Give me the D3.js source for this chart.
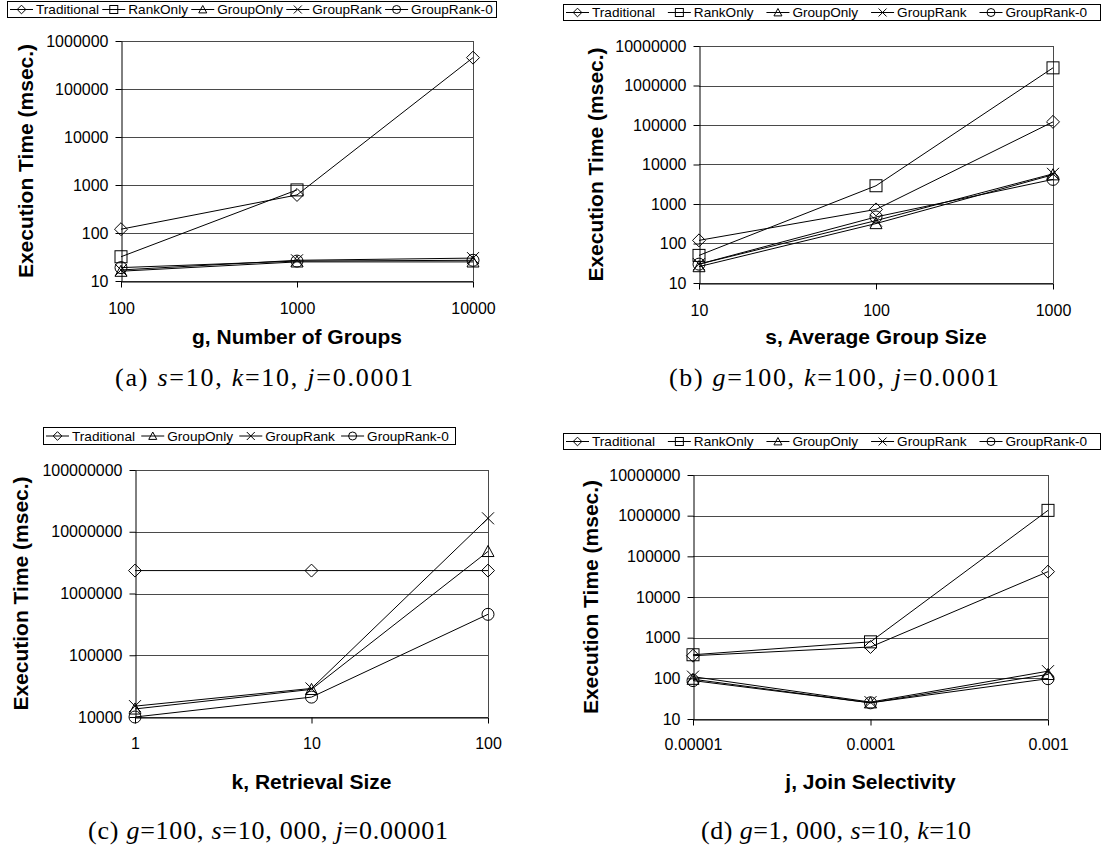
<!DOCTYPE html>
<html><head><meta charset="utf-8">
<script src="https://cdn.jsdelivr.net/npm/d3@7"></script>
<style>
body{margin:0;background:#fff}
svg{display:block}
text{font-family:"Liberation Sans",Arial,Helvetica,sans-serif;fill:#000}
</style>
</head><body>
<svg id="chart" width="1102" height="862"></svg>
<script>
// ---------- DATA ----------
const seriesNames = ["Traditional", "RankOnly", "GroupOnly", "GroupRank", "GroupRank-0"];

// (a) g, Number of Groups
const aX = [100, 1000, 10000];
const aXTickLabels = ["100", "1000", "10000"];
const aYTicks = [10, 100, 1000, 10000, 100000, 1000000];
const aTraditional = [120, 620, 450000];
const aRankOnly = [32, 790, null];
const aGroupOnly = [16, 25, 25];
const aGroupRank = [17, 27, 30];
const aGroupRank0 = [19, 26, 27];

// (b) s, Average Group Size
const bX = [10, 100, 1000];
const bXTickLabels = ["10", "100", "1000"];
const bYTicks = [10, 100, 1000, 10000, 100000, 1000000, 10000000];
const bTraditional = [120, 730, 120000];
const bRankOnly = [50, 2900, 2800000];
const bGroupOnly = [26, 320, 5500];
const bGroupRank = [30, 380, 5800];
const bGroupRank0 = [30, 470, 4200];

// (c) k, Retrieval Size
const cX = [1, 10, 100];
const cXTickLabels = ["1", "10", "100"];
const cYTicks = [10000, 100000, 1000000, 10000000, 100000000];
const cTraditional = [2350000, 2350000, 2350000];
const cGroupOnly = [13500, 28000, 4800000];
const cGroupRank = [15000, 29000, 16500000];
const cGroupRank0 = [10000, 21000, 460000];

// (d) j, Join Selectivity
const dX = [0.00001, 0.0001, 0.001];
const dXTickLabels = ["0.00001", "0.0001", "0.001"];
const dYTicks = [10, 100, 1000, 10000, 100000, 1000000, 10000000];
const dTraditional = [360, 590, 42000];
const dRankOnly = [380, 790, 1350000];
const dGroupOnly = [95, 25, 125];
const dGroupRank = [110, 26, 150];
const dGroupRank0 = [88, 25, 98];

const yTitle = "Execution Time (msec.)";

// ---------- LAYOUT ----------
const markerOf = {"Traditional":"diamond","RankOnly":"square","GroupOnly":"triangle","GroupRank":"cross","GroupRank-0":"circle"};

const panels = [
  {x: aX, xl: aXTickLabels, yt: aYTicks, series: {"Traditional":aTraditional,"RankOnly":aRankOnly,"GroupOnly":aGroupOnly,"GroupRank":aGroupRank,"GroupRank-0":aGroupRank0},
   plot:{x0:121,x1:473,y0:41,y1:281}, legend:{x:7,y:1,w:489,h:16}, ytx:25, xtitle:"g, Number of Groups", xty:344,
   xlPad:15, cap:[{t:"(a) "},{t:"s",i:1},{t:"=10, "},{t:"k",i:1},{t:"=10, "},{t:"j",i:1},{t:"=0.0001"}], capX:264, capY:386, capW:298},
  {x: bX, xl: bXTickLabels, yt: bYTicks, series: {"Traditional":bTraditional,"RankOnly":bRankOnly,"GroupOnly":bGroupOnly,"GroupRank":bGroupRank,"GroupRank-0":bGroupRank0},
   plot:{x0:699,x1:1053,y0:46,y1:283}, legend:{x:563,y:4,w:537,h:16}, ytx:595, xtitle:"s, Average Group Size", xty:344,
   xlPad:15, cap:[{t:"(b) "},{t:"g",i:1},{t:"=100, "},{t:"k",i:1},{t:"=100, "},{t:"j",i:1},{t:"=0.0001"}], capX:834, capY:386, capW:330},
  {x: cX, xl: cXTickLabels, yt: cYTicks, series: {"Traditional":cTraditional,"GroupOnly":cGroupOnly,"GroupRank":cGroupRank,"GroupRank-0":cGroupRank0},
   plot:{x0:135,x1:488,y0:470,y1:717}, legend:{x:43,y:427,w:412,h:17}, ytx:20, xtitle:"k, Retrieval Size", xty:789,
   xlPad:14, cap:[{t:"(c) "},{t:"g",i:1},{t:"=100, "},{t:"s",i:1},{t:"=10"},{t:", "},{t:"000, "},{t:"j",i:1},{t:"=0.00001"}], capX:268, capY:839, capW:360},
  {x: dX, xl: dXTickLabels, yt: dYTicks, series: {"Traditional":dTraditional,"RankOnly":dRankOnly,"GroupOnly":dGroupOnly,"GroupRank":dGroupRank,"GroupRank-0":dGroupRank0},
   plot:{x0:693,x1:1048,y0:475,y1:719}, legend:{x:563,y:433,w:537,h:16}, ytx:590, xtitle:"j, Join Selectivity", xty:789,
   xlPad:13, cap:[{t:"(d) "},{t:"g",i:1},{t:"=1"},{t:", "},{t:"000, "},{t:"s",i:1},{t:"=10, "},{t:"k",i:1},{t:"=10"}], capX:836, capY:839, capW:270}
];

const svg = d3.select("#chart");

function drawMarker(g, shape, cx, cy, r) {
  const m = g.append("g").attr("transform", `translate(${cx},${cy})`)
    .attr("fill", "none").attr("stroke", "#000").attr("stroke-width", 1);
  if (shape === "diamond") {
    const rr = r * 1.08;
    m.append("path").attr("d", `M0,${-rr}L${rr},0L0,${rr}L${-rr},0Z`);
  } else if (shape === "square") {
    m.append("rect").attr("x", -r).attr("y", -r).attr("width", 2*r).attr("height", 2*r);
  } else if (shape === "triangle") {
    m.append("path").attr("d", `M0,${-r}L${r},${r*0.85}L${-r},${r*0.85}Z`);
  } else if (shape === "cross") {
    m.append("path").attr("d", `M${-r},${-r}L${r},${r}M${-r},${r}L${r},${-r}`);
  } else if (shape === "circle") {
    m.append("circle").attr("r", r);
  }
}

panels.forEach(p => {
  const g = svg.append("g");
  const P = p.plot;
  const x = d3.scaleLog().domain([p.x[0], p.x[p.x.length-1]]).range([P.x0, P.x1]);
  const y = d3.scaleLog().domain([p.yt[0], p.yt[p.yt.length-1]]).range([P.y1, P.y0]);

  // gridlines
  g.append("g").selectAll("line").data(p.yt).join("line")
    .attr("x1", P.x0).attr("x2", P.x1)
    .attr("y1", d => Math.round(y(d)) + 0.5).attr("y2", d => Math.round(y(d)) + 0.5)
    .attr("stroke", "#4a4a4a").attr("stroke-width", 1);
  // plot border right
  g.append("line").attr("x1", P.x1 + 0.5).attr("x2", P.x1 + 0.5).attr("y1", P.y0).attr("y2", P.y1)
    .attr("stroke", "#4a4a4a");

  // axes
  const yAxis = d3.axisLeft(y).tickValues(p.yt).tickFormat(d3.format("d")).tickSizeInner(6).tickSizeOuter(0).tickPadding(7);
  const ya = g.append("g").attr("transform", `translate(${P.x0 + 0.5},0)`).call(yAxis);
  ya.selectAll("text").style("font-size", "16px").style("font-family", '"Liberation Sans",Arial,sans-serif');
  const xAxis = d3.axisBottom(x).tickValues(p.x).tickFormat((d, i) => p.xl[i]).tickSizeInner(6).tickSizeOuter(0).tickPadding(p.xlPad);
  const xa = g.append("g").attr("transform", `translate(0,${P.y1 + 0.5})`).call(xAxis);
  xa.selectAll("text").style("font-size", "16px").style("font-family", '"Liberation Sans",Arial,sans-serif');
  g.selectAll(".domain, .tick line").attr("stroke", "#000");

  // series
  const line = d3.line().defined(d => d[1] != null).x(d => x(d[0])).y(d => y(d[1]));
  Object.entries(p.series).forEach(([name, vals]) => {
    const pts = p.x.map((xv, i) => [xv, vals[i]]);
    g.append("path").attr("d", line(pts)).attr("fill", "none").attr("stroke", "#000").attr("stroke-width", 1);
  });
  Object.entries(p.series).forEach(([name, vals]) => {
    p.x.forEach((xv, i) => {
      if (vals[i] == null) return;
      drawMarker(g, markerOf[name], x(xv), y(vals[i]), 6);
    });
  });

  // y title
  g.append("text").attr("transform", `translate(${p.ytx},${(P.y0 + P.y1) / 2}) rotate(-90)`)
    .attr("text-anchor", "middle").attr("dy", "0.36em")
    .style("font-size", "21px").style("font-weight", "bold").text(yTitle);
  // x title
  g.append("text").attr("x", (P.x0 + P.x1) / 2).attr("y", p.xty).attr("text-anchor", "middle")
    .style("font-size", "21px").style("font-weight", "bold").text(p.xtitle);

  // legend
  const L = p.legend;
  const lg = g.append("g");
  lg.append("rect").attr("x", L.x + 0.5).attr("y", L.y + 0.5).attr("width", L.w).attr("height", L.h)
    .attr("fill", "#fff").attr("stroke", "#000");
  const names = Object.keys(p.series);
  const symW = 23, gap = 3;
  const texts = names.map(n => lg.append("text").style("font-size", "13.6px").attr("y", L.y + L.h / 2 + 0.5).attr("dy", "0.36em").text(n));
  const tw = texts.map(t => t.node().getComputedTextLength());
  const total = d3.sum(tw) + names.length * (symW + gap);
  const pad = (L.w - 3 - total) / names.length;
  let cx = L.x + 3;
  names.forEach((n, i) => {
    const cy = L.y + L.h / 2 + 0.5;
    lg.append("line").attr("x1", cx).attr("x2", cx + symW).attr("y1", cy).attr("y2", cy).attr("stroke", "#000");
    drawMarker(lg, markerOf[n], cx + symW / 2, cy, 4);
    texts[i].attr("x", cx + symW + gap);
    cx += symW + gap + tw[i] + pad;
  });

  // caption
  const cap = g.append("text").attr("x", p.capX).attr("y", p.capY).attr("text-anchor", "middle")
    .style("font-family", '"Liberation Serif","Times New Roman",serif').style("font-size", "26px")
    .attr("textLength", p.capW).attr("lengthAdjust", "spacing");
  p.cap.forEach(s => {
    cap.append("tspan").text(s.t).style("font-style", s.i ? "italic" : "normal")
      .style("font-family", '"Liberation Serif","Times New Roman",serif');
  });
});
</script>
</body></html>
